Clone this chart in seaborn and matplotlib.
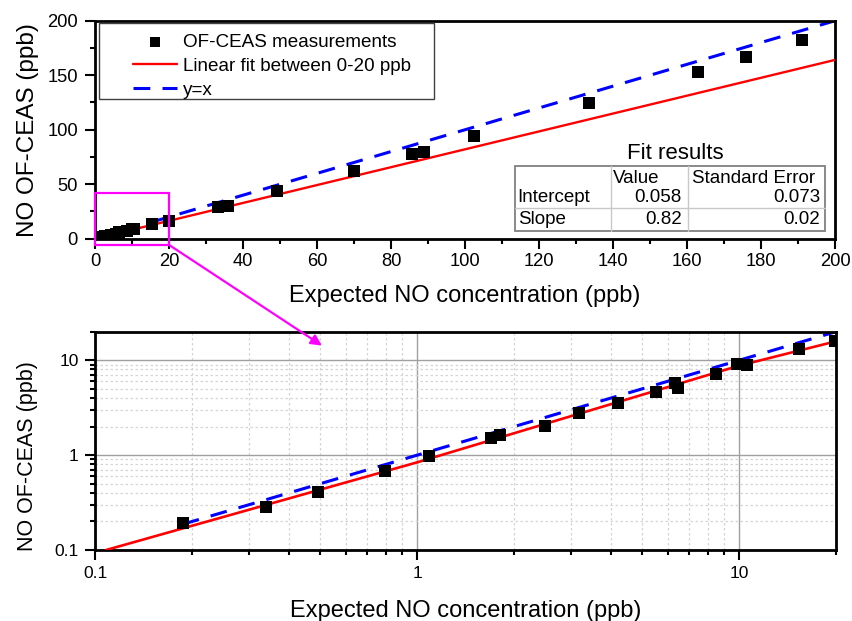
import numpy as np
import pandas as pd
import matplotlib
matplotlib.use("Agg")
import matplotlib.pyplot as plt
import seaborn as sns
from matplotlib.patches import Rectangle, ConnectionPatch
from matplotlib.ticker import MultipleLocator, LogLocator, NullFormatter, FixedLocator
from matplotlib.lines import Line2D

# ---------------- data ----------------
expected_no = [0.187, 0.339, 0.491, 0.795, 1.09, 1.70, 1.81, 2.50, 3.19, 4.22,
               5.53, 6.31, 6.47, 8.47, 9.82, 10.6, 15.4, 19.8, 33.2, 35.9,
               49.0, 69.9, 85.6, 88.8, 102.4, 133.4, 163.0, 175.9, 191.1]
measured_no = [0.191, 0.286, 0.411, 0.679, 0.97, 1.53, 1.64, 2.05, 2.81, 3.52,
               4.60, 5.73, 5.15, 7.17, 9.14, 8.93, 13.2, 16.0, 29.4, 30.3,
               43.8, 62.4, 77.7, 79.8, 94.2, 124.2, 153.2, 166.4, 182.3]

fit_intercept = 0.058
fit_slope = 0.82
fit_intercept_err = 0.073
fit_slope_err = 0.02
fit_x = [0.0, 200.0]

# fit line as drawn in the log panel
logfit_x = [0.108, 1.0, 10.0, 20.0]
logfit_y = [0.1, 0.84, 8.77, 15.85]

identity_x = [0.187, 200.0]

series_labels = ["OF-CEAS measurements", "Linear fit between 0-20 ppb", "y=x"]
xlabel = "Expected NO concentration (ppb)"
ylabel = "NO OF-CEAS (ppb)"
top_xticks = [0, 20, 40, 60, 80, 100, 120, 140, 160, 180, 200]
top_yticks = [0, 50, 100, 150, 200]
log_ticks = [0.1, 1, 10]
log_ticklabels = ["0.1", "1", "10"]

table_title = "Fit results"
table_cols = ["", "Value", "Standard Error"]
table_rows = ["Intercept", "Slope"]

# ---------------- style ----------------
sns.set_style("ticks")
plt.rcParams['font.family'] = ['Liberation Sans', 'DejaVu Sans']
plt.rcParams.update({
    'axes.linewidth': 2.0,
    'axes.edgecolor': 'black',
    'axes.labelcolor': 'black',
    'text.color': 'black',
    'xtick.color': 'black',
    'ytick.color': 'black',
})

df = pd.DataFrame({"x": expected_no, "y": measured_no})
fit_df = pd.DataFrame({"x": fit_x,
                       "y": [fit_intercept + fit_slope * v for v in fit_x]})
id_df = pd.DataFrame({"x": identity_x, "y": identity_x})
logfit_df = pd.DataFrame({"x": logfit_x, "y": logfit_y})

fig = plt.figure(figsize=(8.53, 6.21), dpi=100)
ax1 = fig.add_axes([0.1117, 0.6156, 0.8672, 0.3510])
ax2 = fig.add_axes([0.1117, 0.1143, 0.8683, 0.3515])

RED = "#ff0000"
BLUE = "#0000ff"
MS = 75

# ---------------- top (linear) panel ----------------
sns.lineplot(data=fit_df, x="x", y="y", ax=ax1, color=RED, lw=1.7,
             label=series_labels[1], zorder=3)
sns.lineplot(data=id_df, x="x", y="y", ax=ax1, color=BLUE, lw=2.2,
             linestyle=(0, (5.5, 4)), label=series_labels[2], zorder=2)
sns.scatterplot(data=df, x="x", y="y", ax=ax1, marker="s", s=MS,
                color="black", linewidth=0, label=series_labels[0], zorder=4)

ax1.set_xlim(0, 200)
ax1.set_ylim(0, 200)
ax1.xaxis.set_major_locator(FixedLocator(top_xticks))
ax1.xaxis.set_minor_locator(MultipleLocator(10))
ax1.yaxis.set_major_locator(FixedLocator(top_yticks))
ax1.yaxis.set_minor_locator(MultipleLocator(25))
ax1.tick_params(which="major", length=7, width=1.5, labelsize=13.2, pad=3)
ax1.tick_params(axis="y", which="major", pad=5.5)
ax1.tick_params(which="minor", length=3.8, width=1.5)
ax1.set_xlabel(xlabel, fontsize=17, labelpad=11)
ax1.set_ylabel(ylabel, fontsize=17.5, labelpad=6)
for sp in ax1.spines.values():
    sp.set_visible(True)
    sp.set_linewidth(2.0)
    sp.set_color("black")

# legend (frame drawn separately)
h, l = ax1.get_legend_handles_labels()
order = [l.index(s) for s in series_labels]
leg = ax1.legend([h[i] for i in order], [l[i] for i in order],
                 loc="upper left", bbox_to_anchor=(0.051, 0.94),
                 frameon=False, fontsize=13.6, borderpad=0, borderaxespad=0,
                 handlelength=2.35, handletextpad=0.3, labelspacing=0.36,
                 scatterpoints=1, markerscale=0.85)
ax1.add_patch(Rectangle((0.0054, 0.639), 0.4526, 0.352, transform=ax1.transAxes,
                        fill=False, edgecolor="#404040", lw=1.0, zorder=5))

# fit results table
tx0, tx1, tx2, tx3 = 0.567, 0.697, 0.801, 0.987
ty0, ty1, ty2 = 0.037, 0.139, 0.335
tkw = dict(transform=ax1.transAxes, fontsize=13.5, va="center", zorder=6)
ax1.add_patch(Rectangle((tx0, ty0), tx3 - tx0, ty2 - ty0, transform=ax1.transAxes,
                        facecolor="white", edgecolor="#808080", lw=1.3, zorder=5))
for xv in (tx1, tx2):
    ax1.add_line(Line2D([xv, xv], [ty0, ty2], transform=ax1.transAxes,
                        color="#c8c8c8", lw=1.0, zorder=6))
ax1.add_line(Line2D([tx0, tx3], [ty1, ty1], transform=ax1.transAxes,
                    color="#c8c8c8", lw=1.0, zorder=6))
ax1.text(0.784, 0.392, table_title, transform=ax1.transAxes, fontsize=16,
         ha="center", va="center", zorder=6)
ax1.text(0.700, 0.278, table_cols[1], ha="left", **tkw)
ax1.text(0.807, 0.278, table_cols[2], ha="left", **tkw)
ax1.text(0.571, 0.190, table_rows[0], ha="left", **tkw)
ax1.text(0.571, 0.090, table_rows[1], ha="left", **tkw)
ax1.text(0.793, 0.190, f"{fit_intercept:.3f}", ha="right", **tkw)
ax1.text(0.793, 0.090, f"{fit_slope:.2f}", ha="right", **tkw)
ax1.text(0.980, 0.190, f"{fit_intercept_err:.3f}", ha="right", **tkw)
ax1.text(0.980, 0.090, f"{fit_slope_err:.2f}", ha="right", **tkw)

# zoom box
box_x0, box_x1 = 0.0, 20.0
box_y0, box_y1 = -5.8, 42.0
ax1.add_patch(Rectangle((box_x0, box_y0), box_x1 - box_x0, box_y1 - box_y0,
                        fill=False, edgecolor="#ff00ff", lw=1.6,
                        clip_on=False, zorder=7))

# ---------------- bottom (log) panel ----------------
ax2.set_xscale("log")
ax2.set_yscale("log")
sns.lineplot(data=logfit_df, x="x", y="y", ax=ax2, color=RED, lw=1.9, zorder=3)
sns.lineplot(data=id_df, x="x", y="y", ax=ax2, color=BLUE, lw=2.2,
             linestyle=(0, (5.5, 4)), zorder=2)
sns.scatterplot(data=df, x="x", y="y", ax=ax2, marker="s", s=MS,
                color="black", linewidth=0, zorder=4, legend=False)
ax2.set_xlim(0.1, 20)
ax2.set_ylim(0.1, 20)
ax2.set_xticks(log_ticks, log_ticklabels)
ax2.set_yticks(log_ticks, log_ticklabels)
ax2.xaxis.set_minor_locator(LogLocator(base=10, subs=np.arange(2, 10)))
ax2.yaxis.set_minor_locator(LogLocator(base=10, subs=np.arange(2, 10)))
ax2.xaxis.set_minor_formatter(NullFormatter())
ax2.yaxis.set_minor_formatter(NullFormatter())
ax2.grid(which="major", color="#a0a0a0", lw=1.0, ls="-")
ax2.grid(which="minor", color="#d4d4d4", lw=0.9, ls=(0, (2, 2)))
ax2.set_axisbelow(True)
ax2.tick_params(which="major", length=7, width=1.5, labelsize=12.5, pad=4.3)
ax2.tick_params(axis="y", which="major", pad=5)
ax2.tick_params(which="minor", length=3.8, width=1.5)
ax2.set_xlabel(xlabel, fontsize=17, labelpad=14)
ax2.set_ylabel(ylabel, fontsize=15.5)
ax2.yaxis.set_label_coords(-0.078, 0.43)
legend2 = ax2.get_legend()
if legend2 is not None:
    legend2.remove()
for sp in ax2.spines.values():
    sp.set_visible(True)
    sp.set_linewidth(2.0)
    sp.set_color("black")

# arrow from zoom box to log panel
arrow = ConnectionPatch(xyA=(box_x1, box_y0), coordsA=ax1.transData,
                        xyB=(0.506, 14.3), coordsB=ax2.transData,
                        arrowstyle="-|>", mutation_scale=16, color="#ff00ff",
                        lw=1.6, zorder=8)
fig.add_artist(arrow)

fig.savefig("out.png", dpi=100)
